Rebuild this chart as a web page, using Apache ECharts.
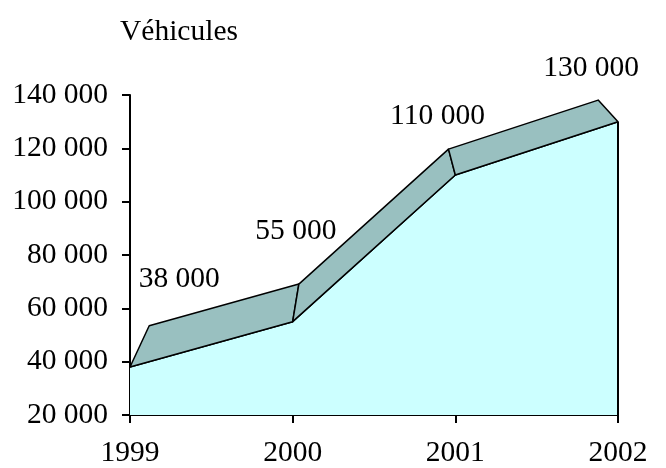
<!DOCTYPE html>
<html>
<head>
<meta charset="utf-8">
<script src="https://cdn.jsdelivr.net/npm/echarts@6/dist/echarts.min.js"></script>
<style>
  html, body { margin: 0; padding: 0; background: #fff; }
  #chart { width: 666px; height: 468px; }
</style>
</head>
<body>
<div id="chart"></div>
<script>
// Vehicle counts per year
const years = ['1999', '2000', '2001', '2002'];
const vehicles = [38000, 55000, 110000, 130000];
const yTicks = { min: 20000, max: 140000, step: 20000 };
const unitLabel = 'Véhicules';

const FONT = "'Liberation Serif', 'Times New Roman', serif";
const FS = 29.5;

// Depth of the 3D ribbon: back edge is the front edge scaled toward a vanishing point
const DEPTH = { vx: 370, vy: -148, s: 0.92 };
// Value label nudges relative to the back edge of the ribbon
const LABEL_SHIFT = [[30, -47], [-3, -53], [-11, -33], [-7, -32]];

function toBack(p) {
  return [DEPTH.vx + DEPTH.s * (p[0] - DEPTH.vx), DEPTH.vy + DEPTH.s * (p[1] - DEPTH.vy)];
}

function fmt(v) {
  return String(v).replace(/\B(?=(\d{3})+(?!\d))/g, ' ');
}

const chart = echarts.init(document.getElementById('chart'), null, { renderer: 'canvas' });

const option = {
  animation: false,
  backgroundColor: '#ffffff',
  textStyle: { fontFamily: FONT },
  title: {
    text: unitLabel,
    left: 115,
    top: 12,
    textStyle: { fontFamily: FONT, fontSize: FS, fontWeight: 'normal', color: '#000', lineHeight: FS }
  },
  grid: { left: 130, right: 48, top: 95, bottom: 50, containLabel: false },
  xAxis: {
    type: 'category',
    data: years,
    boundaryGap: false,
    axisLine: { lineStyle: { color: '#000', width: 2 } },
    axisTick: { alignWithLabel: true, length: 8, lineStyle: { color: '#000', width: 2 } },
    axisLabel: { color: '#000', fontFamily: FONT, fontSize: FS, margin: 23, interval: 0 },
    splitLine: { show: false }
  },
  yAxis: {
    type: 'value',
    min: yTicks.min,
    max: yTicks.max,
    interval: yTicks.step,
    axisLine: { show: true, lineStyle: { color: '#000', width: 2 } },
    axisTick: { show: true, length: 8, lineStyle: { color: '#000', width: 2 } },
    axisLabel: { color: '#000', fontFamily: FONT, fontSize: FS, margin: 22, formatter: fmt },
    splitLine: { show: false }
  },
  series: [
    {
      type: 'line',
      data: vehicles,
      symbol: 'none',
      z: 2,
      lineStyle: { color: '#000', width: 1.5 },
      areaStyle: { color: '#ccffff', opacity: 1, origin: 'start' }
    },
    {
      type: 'custom',
      z: 3,
      clip: false,
      data: vehicles.map((v, i) => [i, v]),
      renderItem: function (params, api) {
        const i = params.dataIndex;
        const n = vehicles.length;
        const front = api.coord([i, vehicles[i]]);
        const back = toBack(front);
        const children = [];
        if (i < n - 1) {
          const front2 = api.coord([i + 1, vehicles[i + 1]]);
          const back2 = toBack(front2);
          children.push({
            type: 'polygon',
            shape: { points: [front, front2, back2, back] },
            style: { fill: '#99c0c0', stroke: '#000', lineWidth: 1.5, lineJoin: 'round' }
          });
        } else {
          const base = api.coord([i, yTicks.min]);
          children.push({
            type: 'line',
            shape: { x1: front[0], y1: front[1], x2: base[0], y2: base[1] },
            style: { stroke: '#000', lineWidth: 2 }
          });
        }
        const sh = LABEL_SHIFT[i];
        children.push({
          type: 'text',
          x: back[0] + sh[0],
          y: back[1] + sh[1],
          style: {
            text: fmt(vehicles[i]),
            fontFamily: FONT,
            fontSize: FS,
            fill: '#000',
            align: 'center',
            verticalAlign: 'middle'
          }
        });
        return { type: 'group', children: children };
      }
    }
  ]
};

chart.setOption(option);
</script>
</body>
</html>
